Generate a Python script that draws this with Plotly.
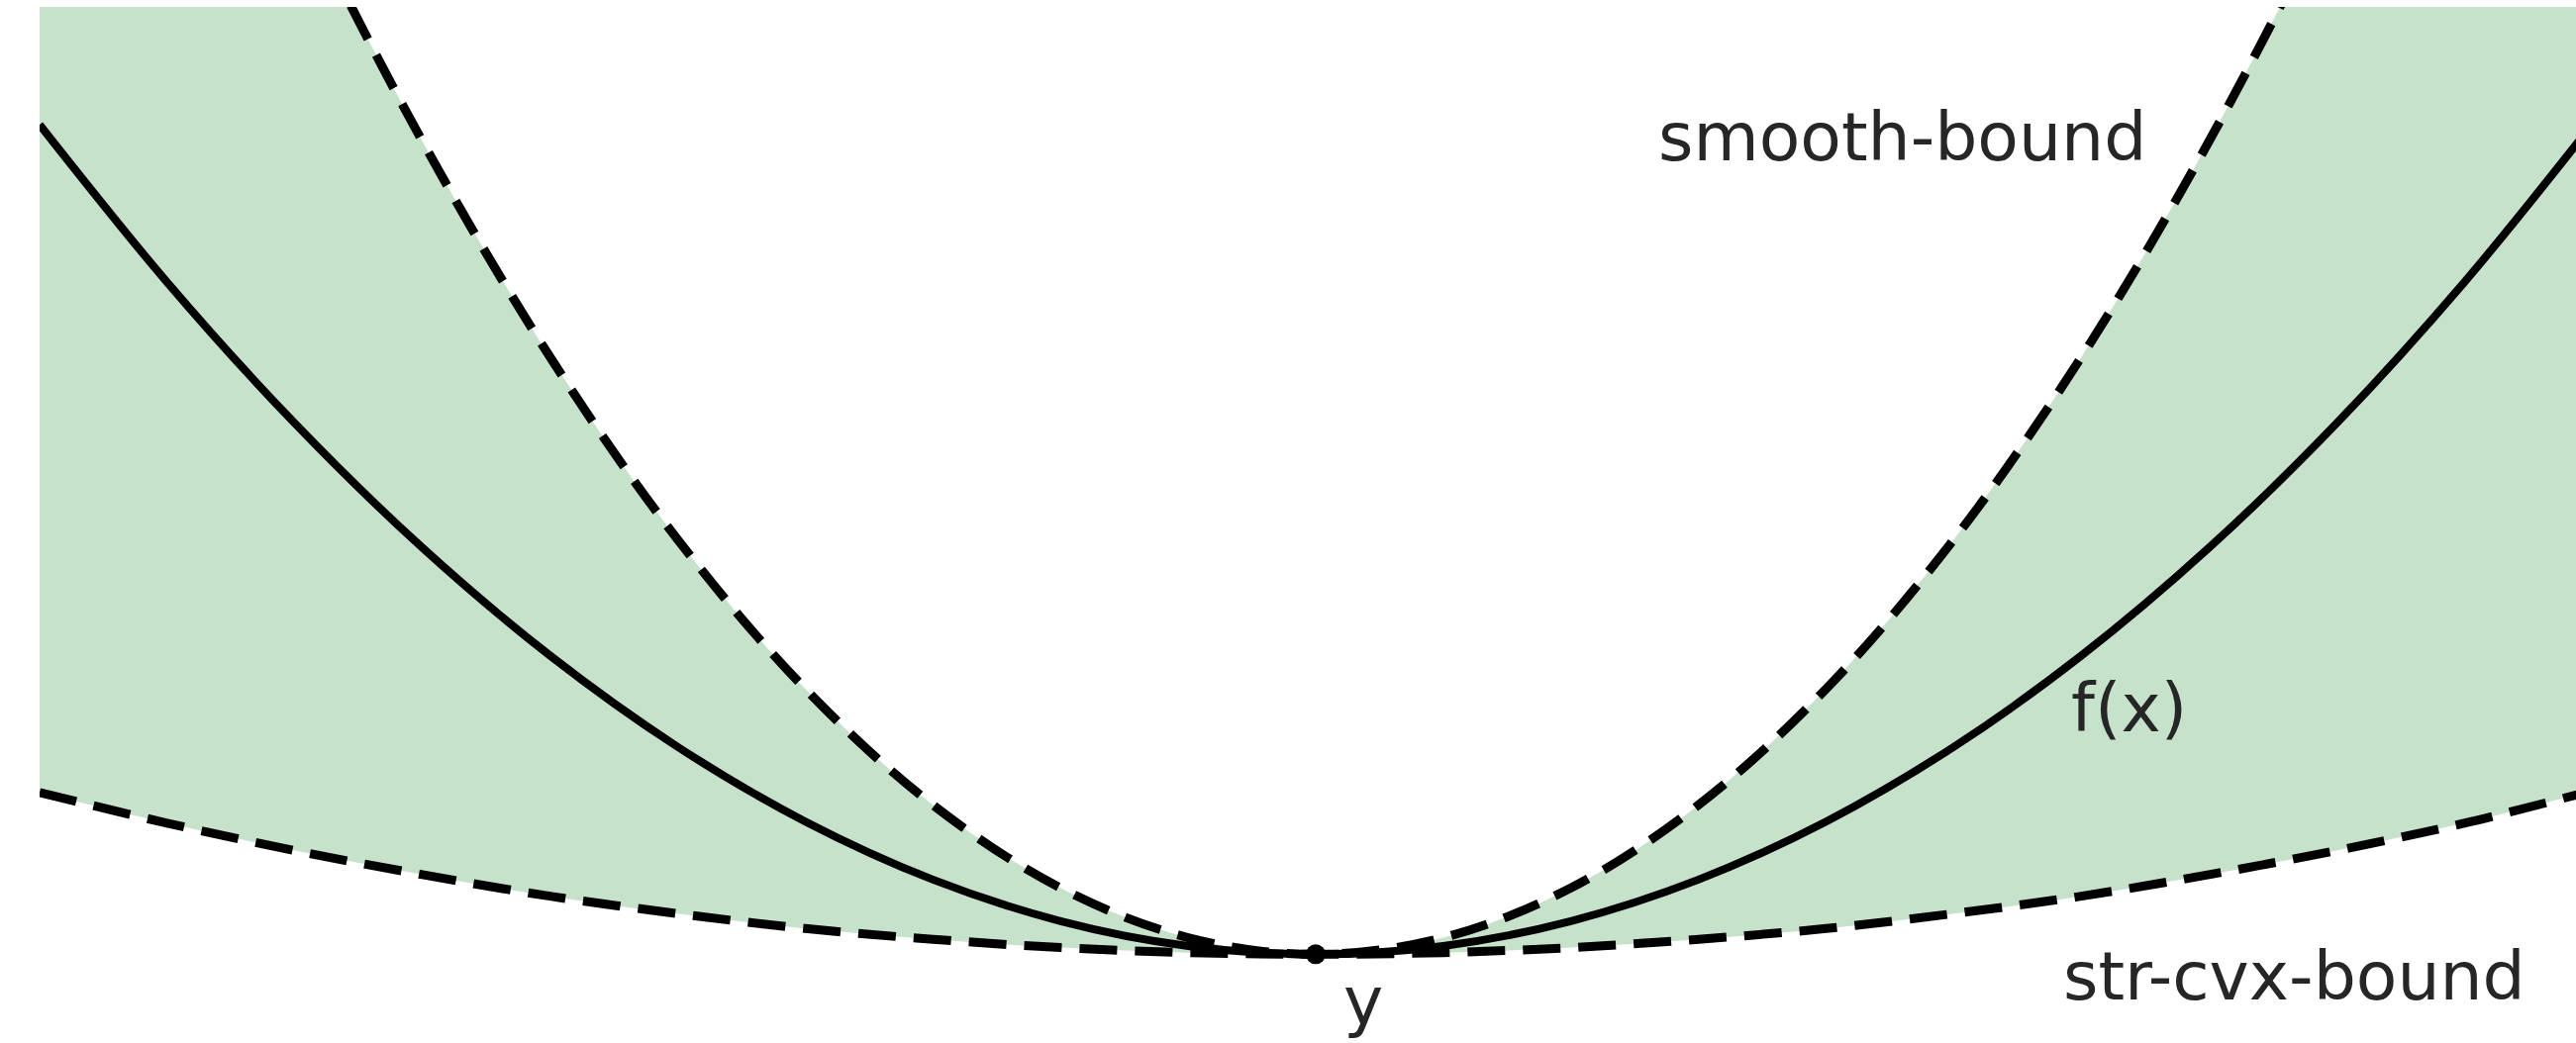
import plotly.graph_objects as go

# ---- data (data units: x centred on the point y, f(left edge)=1) ----
xs = [-1.0, -0.9, -0.8, -0.7, -0.6, -0.5, -0.4, -0.3, -0.2, -0.1, 0.0,
      0.1, 0.2, 0.3, 0.4, 0.5, 0.6, 0.7, 0.8, 0.9, 1.0]

f_y = [1.00, 0.81, 0.64, 0.49, 0.36, 0.25, 0.16, 0.09, 0.04, 0.01, 0.0,
       0.01, 0.04, 0.09, 0.16, 0.25, 0.36, 0.49, 0.64, 0.81, 1.00]

smooth_y = [2.00, 1.62, 1.28, 0.98, 0.72, 0.50, 0.32, 0.18, 0.08, 0.02, 0.0,
            0.02, 0.08, 0.18, 0.32, 0.50, 0.72, 0.98, 1.28, 1.62, 2.00]

cvx_y = [0.195, 0.158, 0.125, 0.096, 0.070, 0.049, 0.031, 0.018, 0.008, 0.002, 0.0,
         0.002, 0.008, 0.018, 0.031, 0.049, 0.070, 0.096, 0.125, 0.158, 0.197]

point_x = [0.0]
point_y = [0.0]

labels = ["smooth-bound", "f(x)", "str-cvx-bound", "y"]
label_x = [0.46, 0.637, 0.767, 0.037]
label_y = [0.985, 0.297, -0.027, -0.056]

X_RANGE = [-1.0, 0.9876]
Y_RANGE = [-0.107, 1.142]

FILL = "rgb(199,226,203)"
DASH = "38px,18px"

fig = go.Figure()

# lower bound (base of fill)
fig.add_trace(go.Scatter(x=xs, y=cvx_y, mode="lines",
                         line=dict(color="rgba(0,0,0,0)", width=0, shape="spline",
                                   simplify=False),
                         hoverinfo="skip", showlegend=False))
# upper bound with fill down to lower bound
fig.add_trace(go.Scatter(x=xs, y=smooth_y, mode="lines",
                         line=dict(color="rgba(0,0,0,0)", width=0, shape="spline",
                                   simplify=False),
                         fill="tonexty", fillcolor=FILL,
                         hoverinfo="skip", showlegend=False))
# dashed bound lines
fig.add_trace(go.Scatter(x=xs, y=cvx_y, mode="lines",
                         line=dict(color="black", width=9, dash=DASH, shape="spline",
                                   simplify=False),
                         showlegend=False))
fig.add_trace(go.Scatter(x=xs, y=smooth_y, mode="lines",
                         line=dict(color="black", width=9, dash=DASH, shape="spline",
                                   simplify=False),
                         showlegend=False))
# f(x)
fig.add_trace(go.Scatter(x=xs, y=f_y, mode="lines",
                         line=dict(color="black", width=8, shape="spline",
                                   simplify=False),
                         showlegend=False))
# point y
fig.add_trace(go.Scatter(x=point_x, y=point_y, mode="markers",
                         marker=dict(color="black", size=20),
                         showlegend=False, cliponaxis=False))

for t, lx, ly in zip(labels, label_x, label_y):
    fig.add_annotation(x=lx, y=ly, text=t, showarrow=False,
                       xanchor="center", yanchor="middle",
                       font=dict(family="DejaVu Sans", size=68, color="#262626"))

fig.update_layout(
    width=2602, height=1054,
    margin=dict(l=40, r=0, t=7, b=0),
    paper_bgcolor="white", plot_bgcolor="white",
    xaxis=dict(range=X_RANGE, visible=False, showgrid=False, zeroline=False),
    yaxis=dict(range=Y_RANGE, visible=False, showgrid=False, zeroline=False),
)

fig.write_html("out.html")
